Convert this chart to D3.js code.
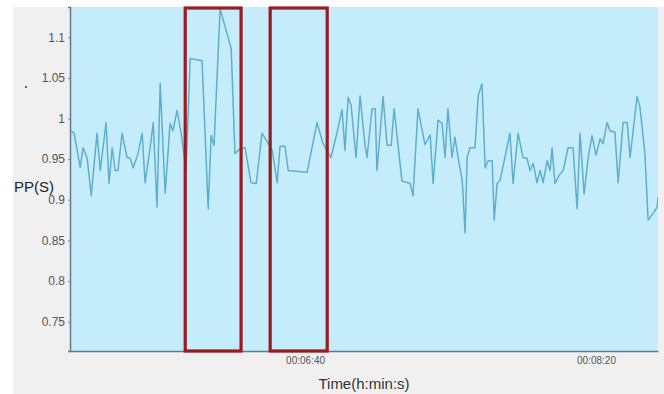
<!DOCTYPE html>
<html>
<head>
<meta charset="utf-8">
<script src="https://cdn.jsdelivr.net/npm/d3@7"></script>
<style>
  body { margin: 0; background: #fff; }
  svg { display: block; font-family: "Liberation Sans", Arial, sans-serif; }
</style>
</head>
<body>
<div id="chart"></div>
<script>
// time in seconds (h:min:s axis), PP interval in seconds
var times = [319.2, 320.6, 322.7, 323.7, 325.1, 326.5, 328.5, 329.6, 331.6, 332.6,
  333.7, 334.7, 335.7, 337.1, 338.8, 339.9, 340.9, 342.6, 344.0, 345.0,
  346.7, 347.8, 349.1, 350.2, 351.9, 353.6, 354.6, 356.0, 357.4, 359.1,
  360.5, 364.6, 366.7, 367.7, 368.7, 370.8, 374.6, 375.9, 377.7, 379.4,
  381.4, 383.2, 385.2, 386.9, 388.7, 390.4, 391.4, 393.1, 394.2, 400.7,
  404.1, 406.2, 408.9, 411.0, 412.7, 413.7, 414.8, 415.8, 417.5, 418.9,
  420.6, 421.3, 423.0, 424.1, 424.7, 426.8, 428.2, 429.6, 430.6, 433.3,
  436.1, 437.1, 438.8, 441.2, 443.0, 444.0, 445.7, 447.1, 448.1, 449.1,
  450.5, 451.5, 452.6, 454.0, 455.0, 455.7, 456.7, 458.4, 459.5, 460.8,
  461.9, 462.9, 464.3, 465.0, 466.0, 467.0, 468.7, 470.4, 471.5, 473.2,
  474.9, 476.3, 477.3, 478.4, 479.7, 480.8, 481.8, 483.2, 484.2, 484.9,
  485.9, 487.3, 488.7, 490.4, 492.1, 493.5, 494.5, 495.9, 497.3, 498.6,
  500.0, 501.4, 502.4, 503.8, 504.8, 506.5, 507.6, 509.3, 510.7, 511.7,
  514.1, 515.1, 516.8, 517.9, 519.6, 521.0, 521.3];
var pp = [0.985, 0.982, 0.940, 0.964, 0.951, 0.905, 0.982, 0.936, 0.995, 0.920,
  0.964, 0.936, 0.936, 0.982, 0.952, 0.951, 0.939, 0.957, 0.982, 0.921,
  0.963, 0.995, 0.891, 1.043, 0.908, 0.994, 0.985, 1.010, 0.982, 0.936,
  1.074, 1.071, 0.889, 0.979, 0.967, 1.135, 1.086, 0.957, 0.963, 0.964,
  0.921, 0.920, 0.982, 0.972, 0.961, 0.921, 0.966, 0.966, 0.936, 0.934,
  0.995, 0.969, 0.952, 0.983, 1.011, 0.961, 1.026, 1.017, 0.952, 1.028,
  0.967, 0.952, 1.012, 1.012, 0.936, 1.027, 0.967, 0.967, 1.012, 0.923,
  0.920, 0.905, 1.012, 0.968, 0.980, 0.920, 0.998, 0.994, 0.952, 1.012,
  0.952, 0.977, 0.952, 0.924, 0.859, 0.952, 0.964, 0.964, 1.028, 1.043,
  0.939, 0.948, 0.948, 0.875, 0.920, 0.924, 0.952, 0.982, 0.920, 0.982,
  0.952, 0.951, 0.936, 0.945, 0.921, 0.936, 0.921, 0.948, 0.936, 0.964,
  0.920, 0.930, 0.936, 0.964, 0.964, 0.889, 0.982, 0.907, 0.952, 0.979,
  0.955, 0.975, 0.969, 0.995, 0.985, 0.983, 0.921, 0.995, 0.995, 0.952,
  1.027, 1.014, 0.957, 0.875, 0.883, 0.891, 0.903];

var yTicks = [0.75, 0.8, 0.85, 0.9, 0.95, 1, 1.05, 1.1];
var xTicks = [400, 500];
// highlighted windows (seconds)
var boxes = [[358.8, 378.0], [388.0, 407.6]];

var W = 664, H = 394;
var margin = {top: 7, right: 6, bottom: 43, left: 70};

var svg = d3.select('#chart').append('svg')
  .attr('width', W)
  .attr('height', H);

svg.append('rect')
  .attr('x', 13).attr('y', 7)
  .attr('width', W - 13).attr('height', H - 7)
  .attr('fill', '#f0f0f0');

var x = d3.scaleLinear()
  .domain([319.2, 521.3])
  .range([margin.left, W - margin.right]);

var y = d3.scaleLinear()
  .domain([0.7138, 1.1373])
  .range([H - margin.bottom, margin.top]);

svg.append('rect')
  .attr('x', margin.left).attr('y', margin.top)
  .attr('width', W - margin.right - margin.left)
  .attr('height', H - margin.bottom - margin.top)
  .attr('fill', '#c5ecfb');

var data = times.map(function(t, i) { return {t: t, v: pp[i]}; });

var line = d3.line()
  .x(function(d) { return x(d.t); })
  .y(function(d) { return y(d.v); });

svg.append('clipPath').attr('id', 'clip')
  .append('rect')
  .attr('x', margin.left).attr('y', margin.top)
  .attr('width', W - margin.right - margin.left)
  .attr('height', H - margin.bottom - margin.top);

svg.append('path')
  .datum(data)
  .attr('clip-path', 'url(#clip)')
  .attr('fill', 'none')
  .attr('stroke', '#5eaed0')
  .attr('stroke-width', 1.5)
  .attr('stroke-linejoin', 'round')
  .attr('d', line);

// axes
var fmt = function(s) {
  var h = Math.floor(s / 3600), m = Math.floor((s % 3600) / 60), sec = Math.round(s % 60);
  return d3.format('02')(h) + ':' + d3.format('02')(m) + ':' + d3.format('02')(sec);
};

var yAxis = svg.append('g')
  .attr('transform', 'translate(' + margin.left + ',0)')
  .call(d3.axisLeft(y).tickValues(yTicks).tickSize(2).tickFormat(d3.format('')));
yAxis.select('.domain').attr('stroke', '#66798a').attr('stroke-width', 1.5);
yAxis.selectAll('.tick line').attr('stroke', '#888');
yAxis.selectAll('.tick text')
  .attr('x', -5)
  .attr('fill', '#555')
  .style('font-size', '12px');

var xAxis = svg.append('g')
  .attr('transform', 'translate(0,' + (H - margin.bottom) + ')')
  .call(d3.axisBottom(x).tickValues(xTicks).tickSize(0).tickFormat(fmt));
xAxis.select('.domain').attr('stroke', '#66798a').attr('stroke-width', 1.5);
xAxis.selectAll('.tick text')
  .attr('y', 6)
  .attr('fill', '#555')
  .style('font-size', '10px');

// highlight boxes
svg.append('g').selectAll('rect')
  .data(boxes)
  .enter().append('rect')
  .attr('x', function(d) { return x(d[0]); })
  .attr('y', margin.top + 1)
  .attr('width', function(d) { return x(d[1]) - x(d[0]); })
  .attr('height', H - margin.bottom - margin.top - 1)
  .attr('fill', 'none')
  .attr('stroke', '#9a1b1f')
  .attr('stroke-width', 3.2);

svg.append('text')
  .attr('x', 364).attr('y', 389)
  .attr('text-anchor', 'middle')
  .attr('fill', '#333')
  .style('font-size', '15px')
  .text('Time(h:min:s)');

svg.append('text')
  .attr('x', 14).attr('y', 192)
  .attr('fill', '#222')
  .style('font-size', '15px')
  .text('PP(S)');

svg.append('circle')
  .attr('cx', 26).attr('cy', 87).attr('r', 1)
  .attr('fill', '#333');
</script>
</body>
</html>
